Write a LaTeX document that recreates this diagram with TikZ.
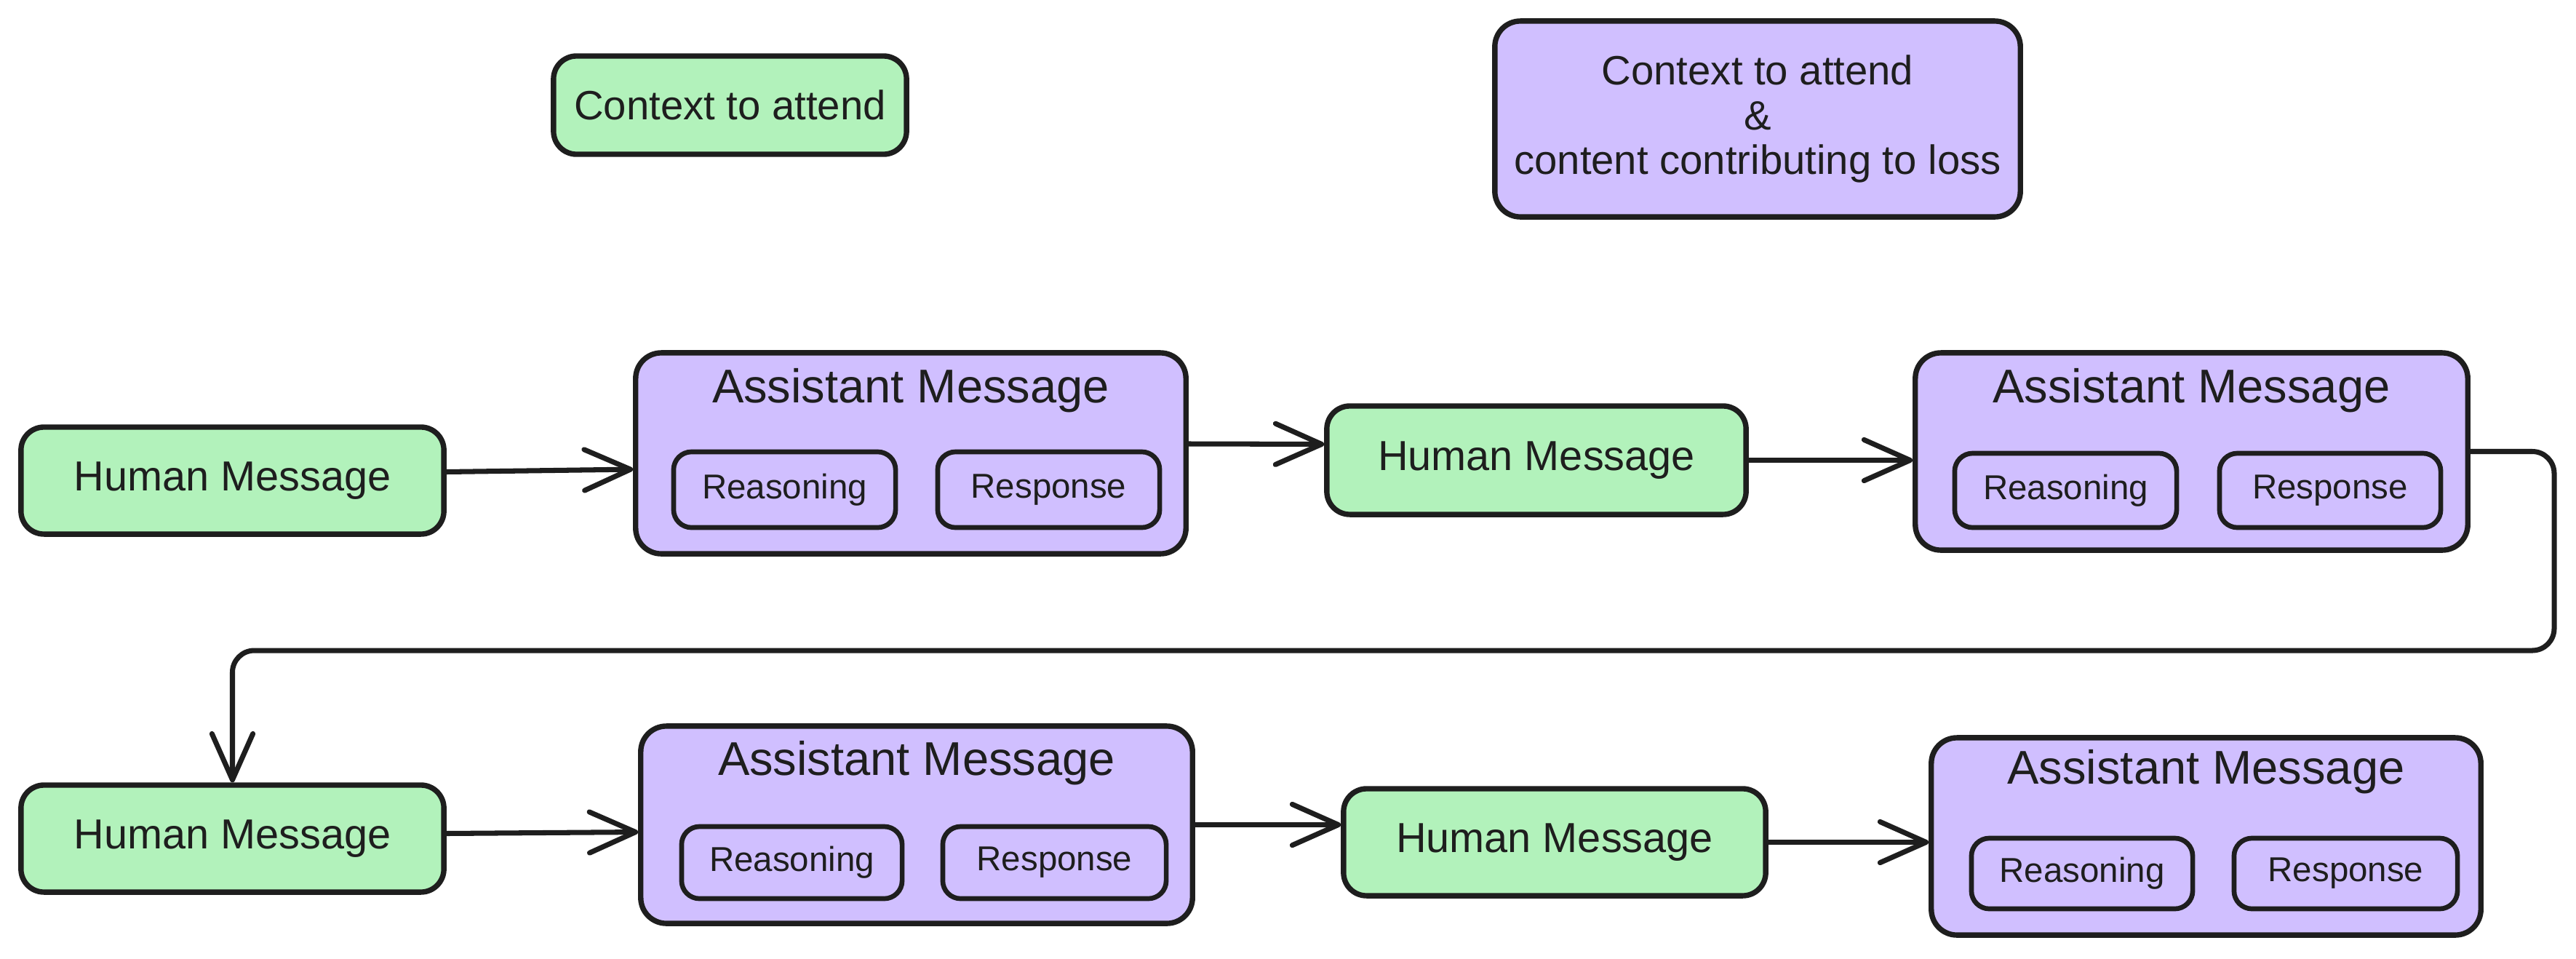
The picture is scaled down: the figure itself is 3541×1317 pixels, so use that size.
\documentclass[tikz,border=0pt]{standalone}
\usepackage{fontspec}
\setmainfont{Liberation Sans}
\usetikzlibrary{arrows.meta,calc}
\definecolor{ink}{HTML}{1E1E1E}
\definecolor{hgreen}{HTML}{B2F2BB}
\definecolor{apurple}{HTML}{D0BFFF}
\tikzset{
  hbox/.style={draw=ink, fill=hgreen, line width=2.1pt, rounded corners=9pt, inner sep=0pt, text=ink},
  abox/.style={draw=ink, fill=apurple, line width=2.1pt, rounded corners=10pt, inner sep=0pt, text=ink},
  subbox/.style={draw=ink, line width=1.9pt, rounded corners=7pt, inner sep=0pt, text=ink},
  conn/.style={draw=ink, line width=2pt, line cap=round, line join=round,
    -{Straight Barb[length=18pt,width=16pt,line width=2pt,round]}},
  hfont/.style={font=\fontsize{16.4}{19}\selectfont},
  afont/.style={font=\fontsize{18.5}{21}\selectfont, text=ink},
  sfont/.style={font=\fontsize{13.5}{16}\selectfont},
  lfont/.style={font=\fontsize{16}{17.4}\selectfont}
}
\begin{document}
\begin{tikzpicture}[x=0.01cm,y=-0.01cm]
\useasboundingbox (0,0) rectangle (3541,1317);

% legend
\node[hbox, lfont, minimum width=4.85cm, minimum height=1.35cm] (lg) at (1003.5,144.5) {Context to attend};
\node[abox, lfont, align=center, minimum width=7.22cm, minimum height=2.69cm] (lp) at (2416,163.5) {Context to attend\\\&\\content contributing to loss};

% row 1
\node[hbox, hfont, minimum width=5.81cm, minimum height=1.47cm] (h1) at (319.5,660.5) {Human Message};
\node[abox, minimum width=7.56cm, minimum height=2.76cm] (a1) at (1252,623) {};
\node[afont] (t1) at ([yshift=-0.55cm]a1.north) {Assistant Message};
\node[subbox, sfont, minimum width=3.05cm, minimum height=1.04cm] (r1) at (1078.5,673) {Reasoning};
\node[subbox, sfont, minimum width=3.05cm, minimum height=1.04cm] (s1) at (1441.5,673) {Response};

\node[hbox, hfont, minimum width=5.76cm, minimum height=1.49cm] (h2) at (2112,632.5) {Human Message};
\node[abox, minimum width=7.59cm, minimum height=2.71cm] (a2) at (3012.5,620.5) {};
\node[afont] (t2) at ([yshift=-0.55cm]a2.north) {Assistant Message};
\node[subbox, sfont, minimum width=3.05cm, minimum height=1.02cm] (r2) at (2839.5,674) {Reasoning};
\node[subbox, sfont, minimum width=3.04cm, minimum height=1.02cm] (s2) at (3203,674) {Response};

% row 2
\node[hbox, hfont, minimum width=5.81cm, minimum height=1.47cm] (h3) at (319.5,1152.5) {Human Message};
\node[abox, minimum width=7.58cm, minimum height=2.71cm] (a3) at (1260,1133.5) {};
\node[afont] (t3) at ([yshift=-0.54cm]a3.north) {Assistant Message};
\node[subbox, sfont, minimum width=3.03cm, minimum height=0.99cm] (r3) at (1088.5,1185.5) {Reasoning};
\node[subbox, sfont, minimum width=3.07cm, minimum height=0.99cm] (s3) at (1449.5,1185.5) {Response};

\node[hbox, hfont, minimum width=5.80cm, minimum height=1.47cm] (h4) at (2137,1157.5) {Human Message};
\node[abox, minimum width=7.55cm, minimum height=2.71cm] (a4) at (3032.5,1149.5) {};
\node[afont] (t4) at ([yshift=-0.50cm]a4.north) {Assistant Message};
\node[subbox, sfont, minimum width=3.04cm, minimum height=0.97cm] (r4) at (2862,1200.5) {Reasoning};
\node[subbox, sfont, minimum width=3.07cm, minimum height=0.97cm] (s4) at (3224.5,1200.5) {Response};

% connectors
\draw[conn] ([yshift=0.12cm]h1.east) -- ([yshift=-0.22cm]a1.west);
\draw[conn] ([yshift=0.13cm]a1.east) -- ([yshift=0.22cm]h2.west);
\draw[conn] (h2.east) -- (a2.west |- h2.east);
\coordinate (turn) at (3511,894);
\draw[conn, rounded corners=0.3cm] (a2.east) -| (turn) -| (h3.north);
\draw[conn] ([yshift=0.07cm]h3.east) -- ([yshift=-0.1cm]a3.west);
\draw[conn] (a3.east) -- (h4.west |- a3.east);
\draw[conn] (h4.east) -- (a4.west |- h4.east);
\end{tikzpicture}
\end{document}
